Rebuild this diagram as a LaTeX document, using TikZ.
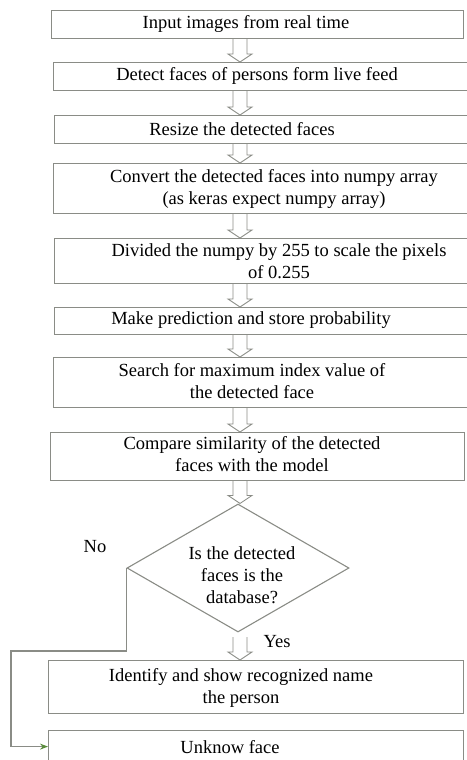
\documentclass[tikz,border=0pt]{standalone}
\usepackage{fontspec}
\setmainfont{Liberation Serif}
\usetikzlibrary{shapes.geometric,arrows.meta,calc}
\definecolor{ln}{RGB}{138,140,134}
\definecolor{grn}{RGB}{90,140,60}
\tikzset{
  box/.style={draw=ln, line width=1.2pt, rectangle, inner sep=0pt, anchor=north west},
  txt/.style={font=\fontsize{18.5}{22}\selectfont, align=center, inner sep=0pt},
  harrow/.style={draw=ln, line width=0.9pt, line join=miter},
  conn/.style={draw=ln, line width=1.1pt}
}
\newcommand\hollowarrow[2]{%
  \draw[harrow] ($(ax |- #1)+(-7,0)$) -- ($(ax |- #2)+(-7,-8)$) -- ($(ax |- #2)+(-12,-8)$)
    -- (ax |- #2) -- ($(ax |- #2)+(12,-8)$) -- ($(ax |- #2)+(7,-8)$) -- ($(ax |- #1)+(7,0)$);}
\begin{document}
\begin{tikzpicture}[x=1pt,y=-1pt]
\useasboundingbox (0,0) rectangle (466,760);
\coordinate (ax) at (240,0);
\node[box, minimum width=412pt, minimum height=28pt] (b1) at (51,10) {};
\node[box, minimum width=415pt, minimum height=28pt] (b2) at (53,62) {};
\node[box, minimum width=414pt, minimum height=28pt] (b3) at (54,115) {};
\node[box, minimum width=415pt, minimum height=50pt] (b4) at (53,163) {};
\node[box, minimum width=414pt, minimum height=45pt] (b5) at (54,238) {};
\node[box, minimum width=414pt, minimum height=27pt] (b6) at (54,307) {};
\node[box, minimum width=415pt, minimum height=50pt] (b7) at (53,357) {};
\node[box, minimum width=414pt, minimum height=48pt] (b8) at (50,432) {};
\node[draw=ln, line width=1.1pt, diamond, minimum width=222pt, minimum height=128pt, inner sep=0pt] (d) at (238,568) {};
\node[box, minimum width=415pt, minimum height=53pt] (b9) at (48,660) {};
\node[box, minimum width=415pt, minimum height=32pt] (b10) at (48,730) {};

\node[txt] (t1) at (246,24) {Input images from real time};
\node[txt] (t2) at (257,76) {Detect faces of persons form live feed};
\node[txt] (t3) at (242,129) {Resize the detected faces};
\node[txt] (t4) at (274,189) {Convert the detected faces into numpy array\\(as keras expect numpy array)};
\node[txt] (t5) at (279,261) {Divided the numpy by 255 to scale the pixels\\of 0.255};
\node[txt] (t6) at (251,320) {Make prediction and store probability};
\node[txt] (t7) at (252,381) {Search for maximum index value of\\the detected face};
\node[txt] (t8) at (252,454) {Compare similarity of the detected\\faces with the model};
\node[txt] (td) at (242,575) {Is the detected\\faces is the\\database?};
\node[txt] (t9) at (241,688) {Identify and show recognized name\\the person};
\node[txt] (t10) at (230,747) {Unknow face};
\node[txt] (no) at (95,547) {No};
\node[txt] (yes) at (277,642) {Yes};

\hollowarrow{b1.south}{b2.north}
\hollowarrow{b2.south}{b3.north}
\hollowarrow{b3.south}{b4.north}
\hollowarrow{b4.south}{b5.north}
\hollowarrow{b5.south}{b6.north}
\hollowarrow{b6.south}{b7.north}
\hollowarrow{b7.south}{b8.north}
\hollowarrow{b8.south}{d.north}
\coordinate (ys) at (240,637);
\hollowarrow{ys}{b9.north}

\coordinate (nc) at (11,651);
\draw[conn, -{Stealth[length=8pt,width=6pt,color=grn]}] (d.west) |- (nc) |- (b10.west);
\end{tikzpicture}
\end{document}
